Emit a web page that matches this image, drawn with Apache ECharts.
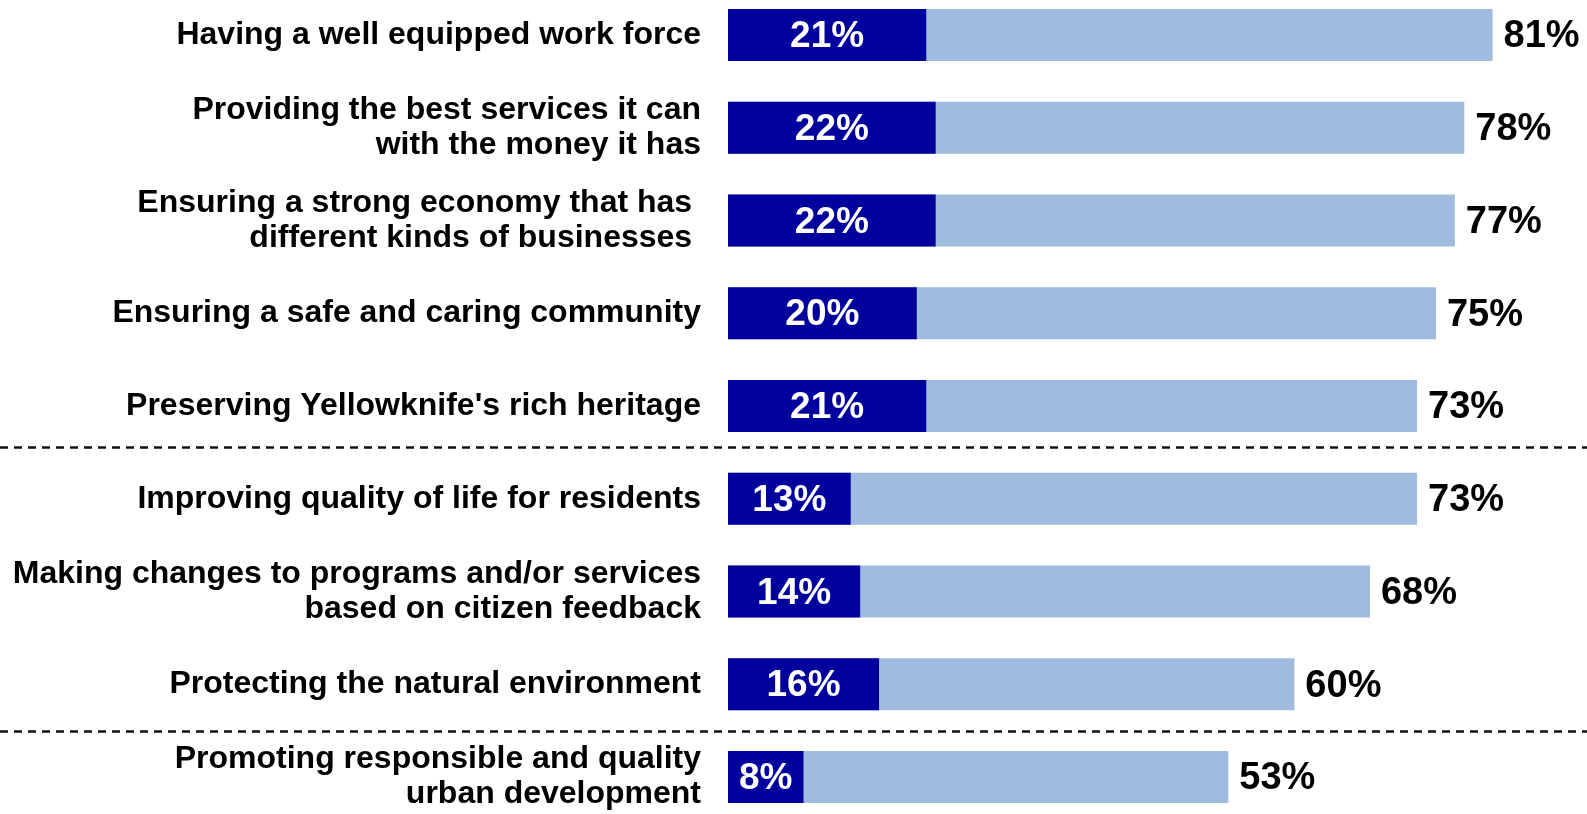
<!DOCTYPE html>
<html>
<head>
<meta charset="utf-8">
<title>Priorities</title>
<script src="https://cdn.jsdelivr.net/npm/echarts@6/dist/echarts.min.js"></script>
<style>
  html, body { margin: 0; padding: 0; background: #ffffff; }
  #chart { width: 1587px; height: 814px; }
</style>
</head>
<body>
<div id="chart"></div>
<script>
// Priority statements, top to bottom
const categories = [
  "Having a well equipped work force",
  "Providing the best services it can\nwith the money it has",
  "Ensuring a strong economy that has \ndifferent kinds of businesses ",
  "Ensuring a safe and caring community",
  "Preserving Yellowknife's rich heritage",
  "Improving quality of life for residents",
  "Making changes to programs and/or services\nbased on citizen feedback",
  "Protecting the natural environment",
  "Promoting responsible and quality\nurban development"
];

// Share naming it the top priority
const topPriority = [21, 22, 22, 20, 21, 13, 14, 16, 8];

// Share naming it a priority overall
const totalPriority = [81, 78, 77, 75, 73, 73, 68, 60, 53];

// Dashed separators between the groups of rows (in row units, 0 = first row)
const groupBreaks = [4.44, 7.5];

const FONT = "'Liberation Sans', Arial, Helvetica, sans-serif";
const DARK = "#00009C";
const LIGHT = "#9FBBDF";

const chart = echarts.init(document.getElementById("chart"), null, { renderer: "canvas" });

chart.setOption({
  animation: false,
  backgroundColor: "#ffffff",
  grid: [
    { left: 728, right: 0, top: 35, bottom: 36, containLabel: false },
    { left: 0, right: 0, top: 35, bottom: 36, containLabel: false }
  ],
  xAxis: [
    { type: "value", gridIndex: 0, min: 0, max: 91, show: false },
    { type: "value", gridIndex: 1, min: 0, max: 1, show: false }
  ],
  yAxis: [
    {
      type: "category",
      gridIndex: 0,
      data: categories,
      inverse: true,
      boundaryGap: false,
      axisLine: { show: false },
      axisTick: { show: false },
      splitLine: { show: false },
      axisLabel: {
        interval: 0,
        margin: 27,
        color: "#000000",
        fontFamily: FONT,
        fontWeight: "bold",
        fontSize: 32,
        lineHeight: 35,
        padding: [4, 0, 0, 0],
        align: "right"
      }
    },
    { type: "value", gridIndex: 1, min: 0, max: categories.length - 1, inverse: true, show: false }
  ],
  series: [
    {
      name: "Total",
      type: "bar",
      xAxisIndex: 0,
      yAxisIndex: 0,
      data: totalPriority,
      barWidth: 52,
      barGap: "-100%",
      itemStyle: { color: LIGHT },
      label: {
        show: true,
        position: "right",
        distance: 11,
        offset: [0, 2],
        formatter: "{c}%",
        color: "#000000",
        fontFamily: FONT,
        fontWeight: "bold",
        fontSize: 38
      },
      z: 2
    },
    {
      name: "Top priority",
      type: "bar",
      xAxisIndex: 0,
      yAxisIndex: 0,
      data: topPriority,
      barWidth: 52,
      barGap: "-100%",
      itemStyle: { color: DARK },
      label: {
        show: true,
        position: "inside",
        offset: [0, 2],
        formatter: "{c}%",
        color: "#ffffff",
        fontFamily: FONT,
        fontWeight: "bold",
        fontSize: 37
      },
      z: 3
    },
    {
      name: "Separators",
      type: "line",
      xAxisIndex: 1,
      yAxisIndex: 1,
      data: [[0, 0]],
      showSymbol: false,
      lineStyle: { opacity: 0 },
      silent: true,
      markLine: {
        silent: true,
        symbol: "none",
        label: { show: false },
        lineStyle: { color: "#111111", width: 2.5, type: [8, 6] },
        data: groupBreaks.map(v => ({ yAxis: v }))
      }
    }
  ]
});
</script>
</body>
</html>
